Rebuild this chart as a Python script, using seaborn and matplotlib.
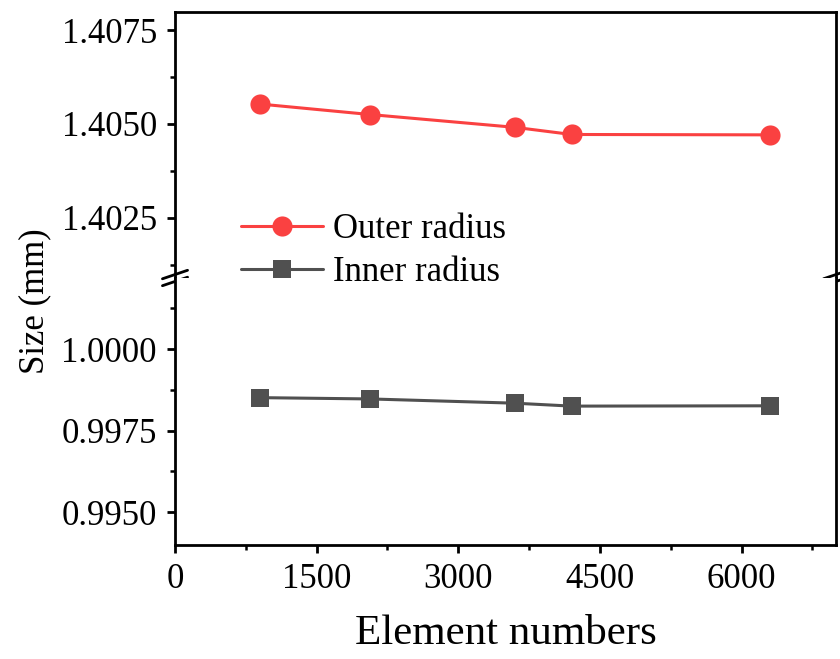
import matplotlib
matplotlib.use("Agg")
import matplotlib.pyplot as plt
import seaborn as sns
import pandas as pd
from matplotlib.ticker import MultipleLocator

# ---- data ----
element_numbers = [900, 2070, 3600, 4200, 6300]
outer_radius = [1.40553, 1.40525, 1.40491, 1.40472, 1.40471]
inner_radius = [0.99851, 0.99847, 0.99834, 0.99825, 0.99826]
series_labels = ["Outer radius", "Inner radius"]
x_ticks = [0, 1500, 3000, 4500, 6000]
top_ticks = [1.4025, 1.4050, 1.4075]
bottom_ticks = [0.9950, 0.9975, 1.0000]

red = "#FA4141"
gray = "#505050"

sns.set_theme(style="ticks")
plt.rcParams["font.family"] = ["Liberation Serif", "DejaVu Serif"]
plt.rcParams["text.color"] = "black"
plt.rcParams["axes.labelcolor"] = "black"
plt.rcParams["xtick.color"] = "black"
plt.rcParams["ytick.color"] = "black"

df_outer = pd.DataFrame({"x": element_numbers, "y": outer_radius})
df_inner = pd.DataFrame({"x": element_numbers, "y": inner_radius})

fig = plt.figure(figsize=(8.4, 6.59), dpi=100)
L, R = 175 / 840, 836 / 840
ax_top = fig.add_axes([L, 1 - 278 / 659, R - L, 266 / 659])
ax_bot = fig.add_axes([L, 1 - 545 / 659, R - L, 267 / 659], sharex=ax_top)

sns.lineplot(data=df_outer, x="x", y="y", ax=ax_top, color=red, linewidth=2.2,
             marker="o", markersize=14.5, markeredgewidth=0, label=series_labels[0])
sns.lineplot(data=df_inner, x="x", y="y", ax=ax_bot, color=gray, linewidth=2.2,
             marker="s", markersize=13.5, markeredgewidth=0, label=series_labels[1])

ax_top.set_ylim(1.4009, 1.40798)
ax_bot.set_ylim(0.99399, 1.00218)
ax_top.set_xlim(0, 7000)

ax_top.set_yticks(top_ticks)
ax_bot.set_yticks(bottom_ticks)
ax_top.set_yticklabels([f"{v:.4f}" for v in top_ticks])
ax_bot.set_yticklabels([f"{v:.4f}" for v in bottom_ticks])
ax_top.yaxis.set_minor_locator(MultipleLocator(0.00125))
ax_bot.yaxis.set_minor_locator(MultipleLocator(0.00125))
ax_bot.set_xticks(x_ticks)
ax_bot.set_xticklabels([str(v) for v in x_ticks])
ax_bot.xaxis.set_minor_locator(MultipleLocator(750))

for ax in (ax_top, ax_bot):
    ax.set_xlabel("")
    ax.set_ylabel("")
    for s in ax.spines.values():
        s.set_linewidth(2.0)
        s.set_color("black")
    ax.tick_params(axis="both", which="major", direction="out", length=6,
                   width=2.0, labelsize=25, colors="black", pad=7)
    ax.tick_params(axis="both", which="minor", direction="out", length=3.5,
                   width=1.8, colors="black")
    ax.tick_params(top=False, right=False, which="both")
    if ax.legend_:
        ax.legend_.remove()

ax_bot.tick_params(axis="x", which="major", pad=7)
ax_top.spines["bottom"].set_visible(False)
ax_bot.spines["top"].set_visible(False)
ax_top.tick_params(axis="x", which="both", bottom=False, labelbottom=False)

# break marks
for xf in (0.0, 1.0):
    for dy in (0.013, -0.013):
        ax_top.plot([xf - 0.019, xf + 0.019], [dy - 0.016, dy + 0.016],
                    transform=ax_top.transAxes, color="black", lw=2.0,
                    clip_on=False, zorder=10)

ax_bot.set_xlabel("Element numbers", fontsize=31, labelpad=13, color="black")
fig.text(35 / 840, 1 - 301 / 659, "Size (mm)", rotation=90, fontsize=25,
         ha="center", va="center", color="black")

h1, l1 = ax_top.get_legend_handles_labels()
h2, l2 = ax_bot.get_legend_handles_labels()
leg = fig.legend(h1 + h2, l1 + l2, loc="center left",
                 bbox_to_anchor=(241 / 840, 1 - 251 / 659), frameon=False,
                 fontsize=25, handlelength=2.35, handletextpad=0.3,
                 labelspacing=0.28, borderpad=0, borderaxespad=0)
for t in leg.get_texts():
    t.set_color("black")

fig.savefig("out.png", dpi=100)
